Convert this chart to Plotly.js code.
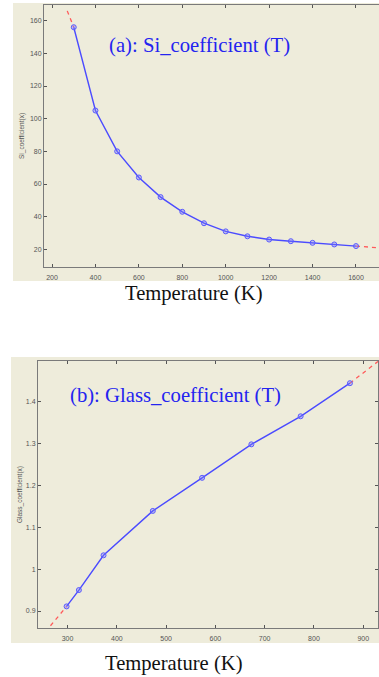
<!DOCTYPE html>
<html>
<head>
<meta charset="utf-8">
<script src="https://cdn.plot.ly/plotly-3.0.1.min.js"></script>
<style>html,body{margin:0;padding:0;background:#fff;}#chart{width:379px;height:677px;}</style>
</head>
<body>
<div id="chart"></div>
<script>
// Panel (a): Si coefficient vs temperature
var siTemp = [300, 400, 500, 600, 700, 800, 900, 1000, 1100, 1200, 1300, 1400, 1500, 1600];
var siCoef = [156, 105, 80, 64, 52, 43, 36, 31, 28, 26, 25, 24, 23, 22];
// fitted curve extensions (red dashed)
var siFitTempLow = [270, 284, 300];
var siFitCoefLow = [166, 161, 156];
var siFitTempHigh = [1600, 1650, 1700];
var siFitCoefHigh = [22, 21.5, 21];

// Panel (b): Glass coefficient vs temperature
var glTemp = [298, 323, 373, 473, 573, 673, 773, 873];
var glCoef = [0.911, 0.950, 1.033, 1.139, 1.218, 1.298, 1.365, 1.444];
var glFitTempLow = [255, 298];
var glFitCoefLow = [0.850, 0.911];
var glFitTempHigh = [873, 940];
var glFitCoefHigh = [1.444, 1.505];

var W = 379, H = 677;
function px(x){return x / W;}
function py(y){return 1 - y / H;}

var blue = '#4b4bff';
var red = '#ff5a5a';
var serif = 'Liberation Serif, Times New Roman, serif';
var sans = 'Liberation Sans, Arial, sans-serif';
var markerStyle = {symbol: 'circle', size: 5, color: 'rgba(120,120,255,0.35)', line: {color: '#5a5aff', width: 1}};

var traces = [
  {x: siFitTempLow, y: siFitCoefLow, mode: 'lines', line: {color: red, width: 1.3, dash: '4px,4px'}, xaxis: 'x', yaxis: 'y'},
  {x: siFitTempHigh, y: siFitCoefHigh, mode: 'lines', line: {color: red, width: 1.3, dash: '4px,4px'}, xaxis: 'x', yaxis: 'y'},
  {x: siTemp, y: siCoef, mode: 'lines+markers', line: {color: blue, width: 1.4}, marker: markerStyle, xaxis: 'x', yaxis: 'y'},
  {x: glFitTempLow, y: glFitCoefLow, mode: 'lines', line: {color: red, width: 1.3, dash: '4px,4px'}, xaxis: 'x2', yaxis: 'y2'},
  {x: glFitTempHigh, y: glFitCoefHigh, mode: 'lines', line: {color: red, width: 1.3, dash: '4px,4px'}, xaxis: 'x2', yaxis: 'y2'},
  {x: glTemp, y: glCoef, mode: 'lines+markers', line: {color: blue, width: 1.4}, marker: markerStyle, xaxis: 'x2', yaxis: 'y2'}
];

var tickFont = {family: sans, size: 7, color: '#555'};
var axisCommon = {showline: true, linecolor: '#7a7a7a', linewidth: 1, ticks: 'inside', ticklen: 3, tickcolor: '#555',
  showgrid: false, zeroline: false, tickfont: tickFont, fixedrange: true};

var layout = {
  width: W, height: H,
  margin: {l: 0, r: 0, t: 0, b: 0},
  paper_bgcolor: '#ffffff',
  plot_bgcolor: '#ffffff',
  showlegend: false,
  xaxis: Object.assign({}, axisCommon, {domain: [px(44), 1], range: [163, 1706], tick0: 200, dtick: 200, mirror: 'ticks', anchor: 'y', ticklabelstandoff: 4}),
  yaxis: Object.assign({}, axisCommon, {domain: [py(267), py(5)], range: [9.2, 169.6], tick0: 20, dtick: 20, mirror: false, anchor: 'x'}),
  xaxis2: Object.assign({}, axisCommon, {domain: [px(38), px(378)], range: [240, 930], tick0: 300, dtick: 100, mirror: 'ticks', anchor: 'y2', ticklabelstandoff: 3}),
  yaxis2: Object.assign({}, axisCommon, {domain: [py(628.3), py(361)], range: [0.8587, 1.497], tick0: 0.9, dtick: 0.1, mirror: 'ticks', anchor: 'x2'}),
  shapes: [
    {type: 'rect', xref: 'paper', yref: 'paper', x0: px(13), x1: 1, y0: py(281), y1: py(3), fillcolor: '#eeecdb', line: {width: 0}, layer: 'below'},
    {type: 'rect', xref: 'paper', yref: 'paper', x0: px(11), x1: 1, y0: py(643), y1: py(357), fillcolor: '#eeecdb', line: {width: 0}, layer: 'below'}
  ],
  annotations: [
    {text: '(a): Si_coefficient (T)', xref: 'paper', yref: 'paper', x: px(199), y: py(46), xanchor: 'center', yanchor: 'middle', showarrow: false,
      font: {family: serif, size: 20.7, color: '#2424f0'}},
    {text: '(b): Glass_coefficient (T)', xref: 'paper', yref: 'paper', x: px(175), y: py(396), xanchor: 'center', yanchor: 'middle', showarrow: false,
      font: {family: serif, size: 20.7, color: '#2424f0'}},
    {text: 'Temperature (K)', xref: 'paper', yref: 'paper', x: px(193.5), y: py(293), xanchor: 'center', yanchor: 'middle', showarrow: false,
      font: {family: serif, size: 20.6, color: '#111'}},
    {text: 'Temperature (K)', xref: 'paper', yref: 'paper', x: px(174), y: py(663), xanchor: 'center', yanchor: 'middle', showarrow: false,
      font: {family: serif, size: 20.6, color: '#111'}},
    {text: 'Si_coefficient(x)', xref: 'paper', yref: 'paper', x: px(22), y: py(136), xanchor: 'center', yanchor: 'middle', showarrow: false, textangle: -90,
      font: {family: sans, size: 6.5, color: '#555'}},
    {text: 'Glass_coefficient(x)', xref: 'paper', yref: 'paper', x: px(20), y: py(495), xanchor: 'center', yanchor: 'middle', showarrow: false, textangle: -90,
      font: {family: sans, size: 6.5, color: '#555'}}
  ]
};

Plotly.newPlot('chart', traces, layout, {displayModeBar: false, staticPlot: true});
</script>
</body>
</html>
